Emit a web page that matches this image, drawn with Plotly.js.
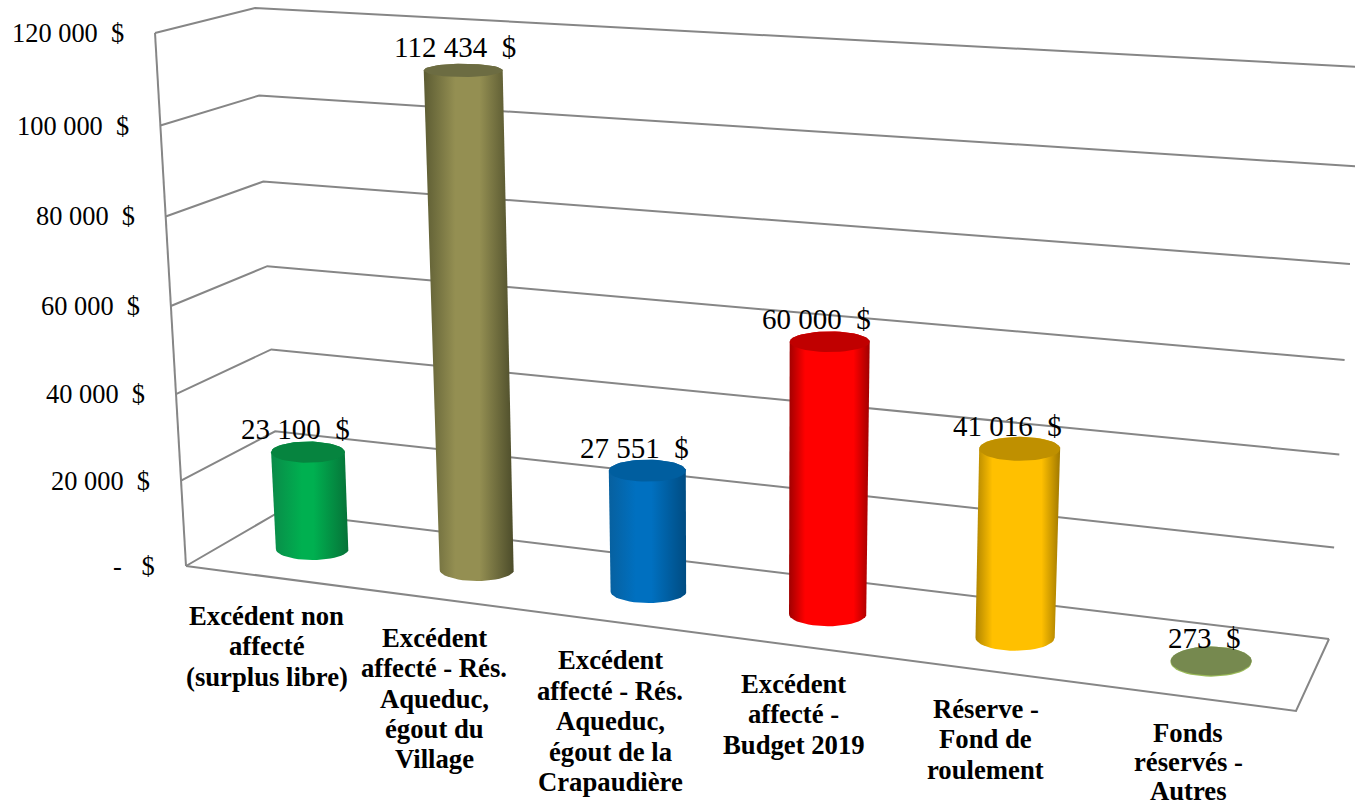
<!DOCTYPE html>
<html lang="fr">
<head>
<meta charset="utf-8">
<script src="https://cdn.plot.ly/plotly-3.0.1.min.js"></script>
<style>html,body{margin:0;padding:0;background:#fff}#chart{width:1355px;height:808px}</style>
</head>
<body>
<div id="chart"></div>
<script>
// ---------- data ----------
const categories = [
  ["Excédent non", "affecté", "(surplus libre)"],
  ["Excédent", "affecté - Rés.", "Aqueduc,", "égout du", "Village"],
  ["Excédent", "affecté - Rés.", "Aqueduc,", "égout de la", "Crapaudière"],
  ["Excédent", "affecté -", "Budget 2019"],
  ["Réserve -", "Fond de", "roulement"],
  ["Fonds", "réservés -", "Autres"]
];
const values = [23100, 112434, 27551, 60000, 41016, 273];
const tickValues = [0, 20000, 40000, 60000, 80000, 100000, 120000];
const valueMax = 120000;

// ---------- styles ----------
const bodyEdgeL = ["#0a8a48", "#5c5c33", "#07609f", "#a00000", "#b08500", "#9bbb59"];
const bodyMid   = ["#00b050", "#948f52", "#0070c0", "#ff0000", "#ffc000", "#9bbb59"];
const bodyEdgeR = ["#067238", "#4c4c2a", "#004c82", "#a00000", "#a07800", "#9bbb59"];
const midStart  = [0.4, 0.35, 0.35, 0.2, 0.2, 0.4];
const midEnd    = [0.55, 0.62, 0.55, 0.8, 0.78, 0.6];
const capColor  = ["#06843f", "#6c6c42", "#005e9f", "#c00000", "#bf9000", "#76894f"];
const labelShift = [-1, -3, -3.5, -4, -4.5, -3.5];
const labelRaise = [0, 0, 0, 0, 0, 1.5];
const labelPitch = [30.4, 30.4, 30.4, 30.4, 30.4, 29];
const valueLabelShift = [-12, -8, -13, -13, -12, -7];
const gridColor = "#868686";
const serif = "'Liberation Serif','Times New Roman',serif";

// ---------- projection of the 3-D box onto the page ----------
const box = {
  flb: [186, 566], flt: [155, 33],
  blb: [279, 512], blt: [255, 8],
  frb: [1296, 711], frt: [1323, 103],
  brb: [1329, 639], brt: [1361, 67]
};
const warp = (t, r) => t / (t + (1 - t) * r);
const mix = (a, b, t) => [a[0] + (b[0] - a[0]) * t, a[1] + (b[1] - a[1]) * t];
function project(u, depth, value) {
  const fu = warp(u, 1.14), fw = warp(value / valueMax, 1.05);
  const bot = mix(mix(box.flb, box.frb, fu), mix(box.blb, box.brb, fu), depth);
  const top = mix(mix(box.flt, box.frt, fu), mix(box.blt, box.brt, fu), depth);
  return mix(bot, top, fw);
}
const catU = i => (i + 0.5) / categories.length;

const traces = [];
const edge = (pts) => traces.push({type: "scatter", mode: "lines",
  x: pts.map(p => p[0]), y: pts.map(p => p[1]),
  line: {color: gridColor, width: 2}, hoverinfo: "skip", showlegend: false});
// grid: wall + back-wall lines
tickValues.forEach(v => edge([project(0, 0, v), project(0, 1, v), project(1, 1, v)]));
// wall edge and floor outline
edge([project(0, 0, 0), project(0, 0, valueMax)]);
edge([project(0, 0, 0), project(1, 0, 0), project(1, 1, 0)]);

// cylinders
const arc = (c, rx, ry, a0, a1, n) => Array.from({length: n + 1}, (_, k) => {
  const a = a0 + (a1 - a0) * k / n;
  return [c[0] + rx * Math.cos(a), c[1] + ry * Math.sin(a)];
});
values.forEach((val, i) => {
  const u = catU(i), f = warp(u, 1.14), w = val / valueMax;
  const b = project(u, 0.5, 0), t = project(u, 0.5, val);
  const rxB = 36 + 5 * f, rxT = rxB + 2.5 * w;
  const ryB = 11 + 4.2 * Math.pow(f, 2), ryT = ryB * (1 - 0.45 * Math.pow(w, 1.5));
  const outline = [...arc(t, rxT, ryT, Math.PI, 2 * Math.PI, 24),
                   ...arc(b, rxB, ryB, 0, Math.PI, 24)];
  traces.push({type: "scatter", mode: "lines", x: outline.map(p => p[0]), y: outline.map(p => p[1]),
    fill: "toself", line: {width: 0, color: bodyMid[i]},
    fillgradient: {type: "horizontal", colorscale: [
      [0, bodyEdgeL[i]], [midStart[i], bodyMid[i]], [midEnd[i], bodyMid[i]], [1, bodyEdgeR[i]]]},
    hoverinfo: "skip", showlegend: false});
  const cap = arc(t, rxT, ryT, 0, 2 * Math.PI, 48);
  traces.push({type: "scatter", mode: "lines", x: cap.map(p => p[0]), y: cap.map(p => p[1]),
    fill: "toself", fillcolor: capColor[i], line: {width: 0, color: capColor[i]},
    hoverinfo: "skip", showlegend: false});
});

// ---------- text ----------
const money = v => v === 0 ? "-\u00A0\u00A0\u00A0$"
  : String(v).replace(/\B(?=(\d{3})+$)/g, "\u00A0") + "\u00A0\u00A0$";
const annotations = [];
tickValues.forEach(v => {
  const p = project(0, 0, v);
  annotations.push({x: p[0] - 29, y: p[1], xref: "x", yref: "y", xanchor: "right", yanchor: "middle",
    text: money(v), showarrow: false, font: {family: serif, size: 26.4, color: "#000"}});
});
values.forEach((val, i) => {
  const p = project(catU(i), 0.5, val);
  annotations.push({x: p[0] + valueLabelShift[i], y: p[1] - 23, xref: "x", yref: "y", xanchor: "center", yanchor: "middle",
    text: money(val), showarrow: false, font: {family: serif, size: 29, color: "#000"}});
});
categories.forEach((lines, i) => {
  const u = catU(i), p = project(u, 0, 0), f = warp(u, 1.14);
  lines.forEach((line, k) => annotations.push({
    x: p[0] + labelShift[i], y: p[1] + 39.5 - 2.5 * f - labelRaise[i] + k * labelPitch[i],
    xref: "x", yref: "y", xanchor: "center", yanchor: "middle", align: "center",
    text: "<b>" + line + "</b>", showarrow: false, font: {family: serif, size: 26.7, color: "#000"}}));
});

Plotly.newPlot("chart", traces, {
  width: 1355, height: 808,
  margin: {l: 0, r: 0, t: 0, b: 0},
  paper_bgcolor: "#fff", plot_bgcolor: "#fff",
  showlegend: false,
  xaxis: {range: [0, 1355], visible: false, fixedrange: true},
  yaxis: {range: [808, 0], visible: false, fixedrange: true},
  annotations
}, {displayModeBar: false, staticPlot: true});
</script>
</body>
</html>
